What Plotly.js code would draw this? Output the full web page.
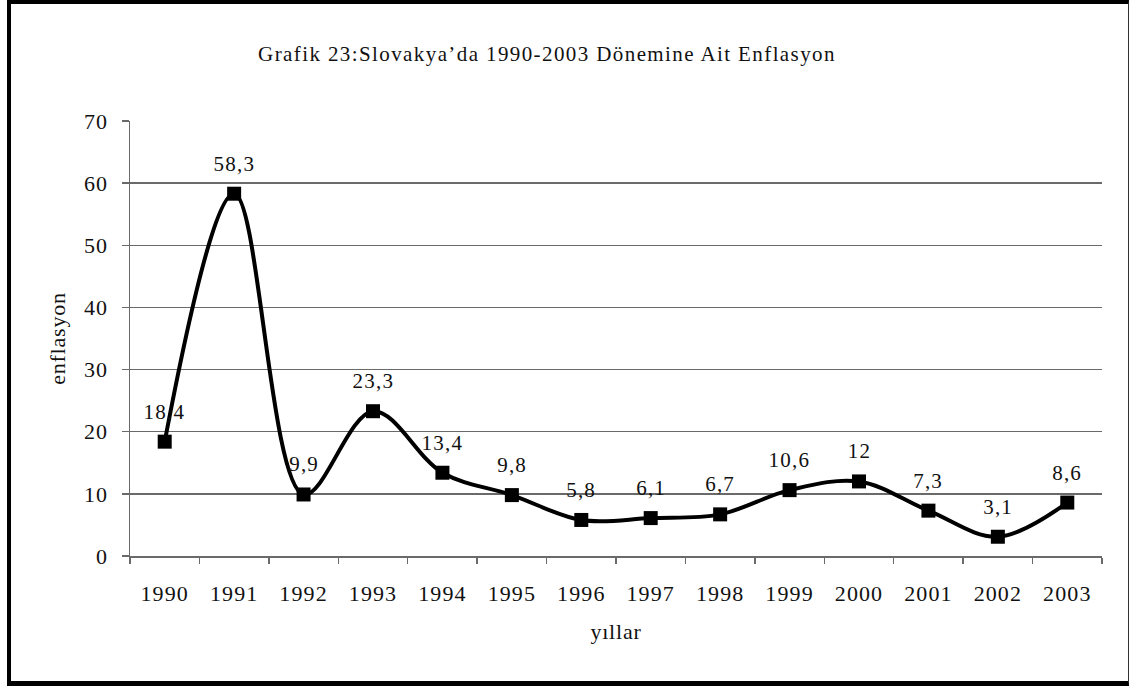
<!DOCTYPE html>
<html>
<head>
<meta charset="utf-8">
<script src="https://cdn.plot.ly/plotly-3.0.1.min.js"></script>
<style>
  html, body { margin: 0; padding: 0; background: #ffffff; }
  #wrap { position: relative; width: 1130px; height: 686px; overflow: hidden; }
  #chart { position: absolute; left: 0; top: 0; width: 1130px; height: 686px; }
  #frame { position: absolute; left: 7px; top: 0; width: 1122px; height: 686px;
           box-sizing: border-box; border-left: 4px solid #000; border-top: 4px solid #000;
           border-bottom: 5px solid #000; border-right: 1px solid #333; pointer-events: none; }
  /* the reference text is set slightly wider than plain Times */
  #chart .gtitle { letter-spacing: 1.4px; }
  #chart .xtick text, #chart .ytick text { letter-spacing: 1.1px; }
  #chart .annotation-text { letter-spacing: 1.2px; }
  #chart .xtitle, #chart .ytitle { letter-spacing: 0.8px; }
</style>
</head>
<body>
<div id="wrap">
  <div id="chart"></div>
  <div id="frame"></div>
</div>
<script>
// Data
const years = ["1990","1991","1992","1993","1994","1995","1996","1997","1998","1999","2000","2001","2002","2003"];
const inflation = [18.4, 58.3, 9.9, 23.3, 13.4, 9.8, 5.8, 6.1, 6.7, 10.6, 12, 7.3, 3.1, 8.6];
const yTicks = [0, 10, 20, 30, 40, 50, 60, 70];

const chartTitle = "Grafik 23:Slovakya’da 1990-2003 Dönemine Ait Enflasyon";
const xTitle = "yıllar";
const yTitle = "enflasyon";

const FONT = "Liberation Serif";
const TXT = "#111111";
const GRID = "#6a6a6a";

function fmt(v) { return String(v).replace(".", ","); }

const trace = {
  type: "scatter",
  mode: "lines+markers",
  x: years,
  y: inflation,
  line: { color: "#000000", width: 4, shape: "spline", smoothing: 1 },
  marker: { symbol: "square", size: 14, color: "#000000" },
  hoverinfo: "x+y",
  cliponaxis: false
};

// category axis: place labels by category index
const annotations = years.map((yr, i) => ({
  x: i, y: inflation[i], xref: "x", yref: "y",
  text: fmt(inflation[i]), showarrow: false,
  yshift: 30, font: { family: FONT, size: 21, color: TXT }
}));

const layout = {
  width: 1130, height: 686,
  paper_bgcolor: "#ffffff", plot_bgcolor: "#ffffff",
  margin: { l: 130, r: 28, t: 121, b: 130 },
  showlegend: false,
  font: { family: FONT, color: TXT, size: 21 },
  title: {
    text: chartTitle,
    font: { family: FONT, size: 21, color: TXT },
    x: 547 / 1130, xanchor: "center", xref: "container",
    y: 1 - 54 / 686, yanchor: "middle", yref: "container"
  },
  xaxis: {
    type: "category",
    categoryorder: "array", categoryarray: years,
    range: [-0.5, years.length - 0.5],
    showgrid: false, zeroline: false,
    showline: true, linecolor: GRID, linewidth: 1.5,
    ticks: "outside", tickson: "boundaries", ticklen: 6, tickcolor: GRID, tickwidth: 1.5,
    tickfont: { family: FONT, size: 22, color: TXT },
    ticklabelstandoff: 17,
    title: { text: xTitle, font: { family: FONT, size: 22, color: TXT }, standoff: 18 },
    fixedrange: true
  },
  yaxis: {
    range: [0, 70], tickvals: yTicks, ticktext: yTicks.map(String),
    showgrid: true, gridcolor: GRID, gridwidth: 1.5,
    zeroline: false,
    showline: true, linecolor: GRID, linewidth: 1.5,
    ticks: "outside", ticklen: 7, tickcolor: GRID, tickwidth: 1.5,
    tickfont: { family: FONT, size: 22, color: TXT },
    ticklabelstandoff: 9,
    title: { text: yTitle, font: { family: FONT, size: 22, color: TXT }, standoff: 14 },
    fixedrange: true
  },
  annotations: annotations
};

Plotly.newPlot("chart", [trace], layout, { displayModeBar: false, staticPlot: true });
</script>
</body>
</html>
